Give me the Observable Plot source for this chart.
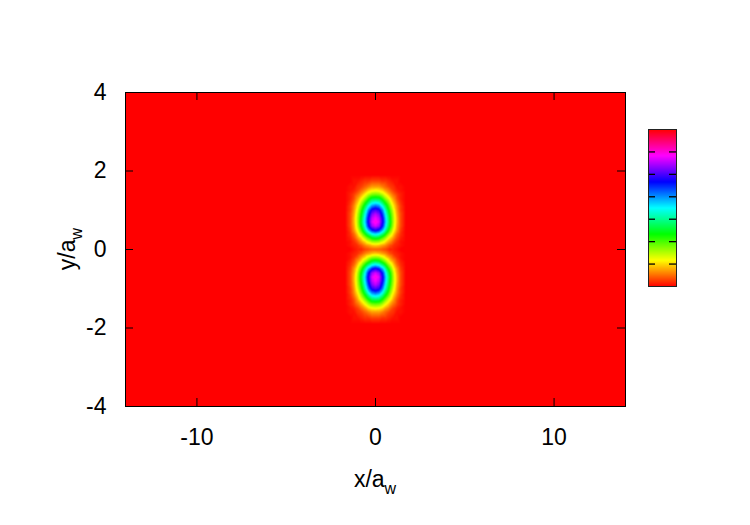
<!DOCTYPE html>
<html>
<head>
<meta charset="utf-8">
<script src="https://cdn.jsdelivr.net/npm/d3@7"></script>
<script src="https://cdn.jsdelivr.net/npm/@observablehq/plot@0.6"></script>
<style>
  body { margin: 0; background: #fff; }
  #wrap { position: relative; width: 750px; height: 525px; }
  #bar { position: absolute; left: 647px; top: 128px; }
  svg text { font-family: "Liberation Sans", Arial, Helvetica, sans-serif; }
</style>
</head>
<body>
<div id="wrap"><div id="chart"></div><div id="bar"></div></div>
<script>
// ---- data ----
const xDomain = [-14, 14];
const yDomain = [-4, 4];
const xTicks = [-10, 0, 10];
const yTicks = [-4, -2, 0, 2, 4];
const xLabel = ["x/a", "w"];
const yLabel = ["y/a", "w"];

// upper lobe: value (fraction of colour range) at (±blobX, blobY); lower lobe is its mirror image
const blobX = [0, 0.2, 0.4, 0.6, 0.8, 1.0, 1.2, 1.4, 1.7];
const blobY = [0, 0.1, 0.2, 0.3, 0.4, 0.5, 0.6, 0.7, 0.8, 0.9, 1.0, 1.1, 1.2, 1.3, 1.4, 1.5, 1.6, 1.75, 1.9];
const blobV = [
  [0.06, 0.06, 0.05, 0.04, 0.02, 0.02, 0.01, 0.00, 0],
  [0.13, 0.12, 0.10, 0.08, 0.05, 0.03, 0.02, 0.01, 0],
  [0.24, 0.23, 0.19, 0.14, 0.10, 0.06, 0.03, 0.01, 0],
  [0.37, 0.35, 0.29, 0.22, 0.15, 0.10, 0.05, 0.02, 0],
  [0.53, 0.50, 0.42, 0.32, 0.22, 0.14, 0.07, 0.03, 0],
  [0.70, 0.66, 0.56, 0.42, 0.29, 0.18, 0.10, 0.04, 0],
  [0.81, 0.77, 0.65, 0.48, 0.34, 0.21, 0.11, 0.05, 0],
  [0.85, 0.81, 0.68, 0.51, 0.36, 0.22, 0.12, 0.05, 0],
  [0.83, 0.79, 0.67, 0.50, 0.35, 0.22, 0.12, 0.05, 0],
  [0.79, 0.75, 0.63, 0.47, 0.33, 0.21, 0.11, 0.05, 0],
  [0.72, 0.69, 0.58, 0.43, 0.30, 0.19, 0.10, 0.04, 0],
  [0.61, 0.58, 0.49, 0.37, 0.26, 0.16, 0.09, 0.04, 0],
  [0.49, 0.47, 0.39, 0.30, 0.21, 0.13, 0.07, 0.03, 0],
  [0.37, 0.36, 0.30, 0.22, 0.16, 0.10, 0.05, 0.02, 0],
  [0.26, 0.25, 0.21, 0.16, 0.11, 0.07, 0.04, 0.02, 0],
  [0.17, 0.16, 0.14, 0.10, 0.07, 0.04, 0.02, 0.01, 0],
  [0.10, 0.10, 0.08, 0.06, 0.04, 0.03, 0.01, 0.01, 0],
  [0.04, 0.04, 0.03, 0.03, 0.02, 0.01, 0.01, 0.00, 0],
  [0, 0, 0, 0, 0, 0, 0, 0, 0]
];
const backgroundV = 0;
const colorDomain = [0, 1];
const barTicks = [1/7, 2/7, 3/7, 4/7, 5/7, 6/7];

// ---- build sample table ----
const samples = [];
for (const sy of [1, -1]) {
  blobY.forEach((yy, i) => {
    if (sy < 0 && yy === 0) return;
    blobX.forEach((xx, j) => {
      for (const sx of [1, -1]) {
        if (sx < 0 && xx === 0) continue;
        samples.push({x: sx * xx, y: sy * yy, v: blobV[i][j]});
      }
    });
  });
}
for (const cx of xDomain) for (const cy of yDomain) samples.push({x: cx, y: cy, v: backgroundV});
for (const cx of xDomain) samples.push({x: cx, y: 0, v: backgroundV});
for (const cy of yDomain) samples.push({x: 0, y: cy, v: backgroundV});

// full hue wheel palette (gnuplot HSV style)
const hue = t => d3.hsl(360 * Math.max(0, Math.min(1, t)), 1, 0.5).formatHex();

const W = 750, H = 525, mL = 125, mR = 125, mT = 92, mB = 119;
const fw = W - mL - mR, fh = H - mT - mB, tick = 8;
const font = "'Liberation Sans', Arial, Helvetica, sans-serif";
const fmt = d => String(d);
const fs = 23;

const plot = Plot.plot({
  width: W, height: H,
  marginLeft: mL, marginRight: mR, marginTop: mT, marginBottom: mB,
  style: {fontFamily: font, fontSize: fs + "px", color: "#000", background: "transparent", overflow: "visible"},
  x: {domain: xDomain},
  y: {domain: yDomain},
  color: {type: "linear", domain: colorDomain, interpolate: hue},
  marks: [
    Plot.raster(samples, {x: "x", y: "y", fill: "v", interpolate: "barycentric",
      x1: xDomain[0], x2: xDomain[1], y1: yDomain[0], y2: yDomain[1]}),
    Plot.frame({stroke: "#000", strokeWidth: 1}),
    Plot.axisX(xTicks, {tickSize: 0, tickPadding: 22, label: null, fontSize: fs, tickFormat: fmt}),
    Plot.axisY(yTicks, {tickSize: 0, tickPadding: 19, label: null, fontSize: fs, tickFormat: fmt}),
    Plot.tickX(xTicks, {x: d => d, insetTop: fh - tick, stroke: "#000"}),
    Plot.tickX(xTicks, {x: d => d, insetBottom: fh - tick, stroke: "#000"}),
    Plot.tickY(yTicks, {y: d => d, insetRight: fw - tick, stroke: "#000"}),
    Plot.tickY(yTicks, {y: d => d, insetLeft: fw - tick, stroke: "#000"})
  ]
});
document.getElementById("chart").appendChild(plot);

// axis titles with subscripts
const svg = d3.select(plot);
const xt = svg.append("text")
  .attr("x", mL + fw / 2).attr("y", 487)
  .attr("text-anchor", "middle").attr("fill", "#000")
  .style("font-size", fs + "px").style("font-family", font);
xt.append("tspan").text(xLabel[0]);
xt.append("tspan").attr("dy", 7).style("font-size", "16px").text(xLabel[1]);

const yt = svg.append("text")
  .attr("transform", `translate(75,${mT + fh / 2}) rotate(-90)`)
  .attr("text-anchor", "middle").attr("fill", "#000")
  .style("font-size", fs + "px").style("font-family", font);
yt.append("tspan").text(yLabel[0]);
yt.append("tspan").attr("dy", 7).style("font-size", "16px").text(yLabel[1]);

// colour bar
const bw = 30, bh = 159;
const bar = Plot.plot({
  width: bw, height: bh, margin: 1,
  x: {domain: [0, 1], axis: null},
  y: {domain: colorDomain, axis: null},
  color: {type: "linear", domain: colorDomain, interpolate: hue},
  style: {background: "transparent"},
  marks: [
    Plot.raster({fill: (x, y) => y, x1: 0, x2: 1, y1: colorDomain[0], y2: colorDomain[1], pixelSize: 1}),
    Plot.tickY(barTicks, {y: d => d, insetRight: bw - 2 - 7, stroke: "#000", strokeWidth: 1.3}),
    Plot.tickY(barTicks, {y: d => d, insetLeft: bw - 2 - 7, stroke: "#000", strokeWidth: 1.3}),
    Plot.frame({stroke: "#222", strokeWidth: 1})
  ]
});
document.getElementById("bar").appendChild(bar);
</script>
</body>
</html>
